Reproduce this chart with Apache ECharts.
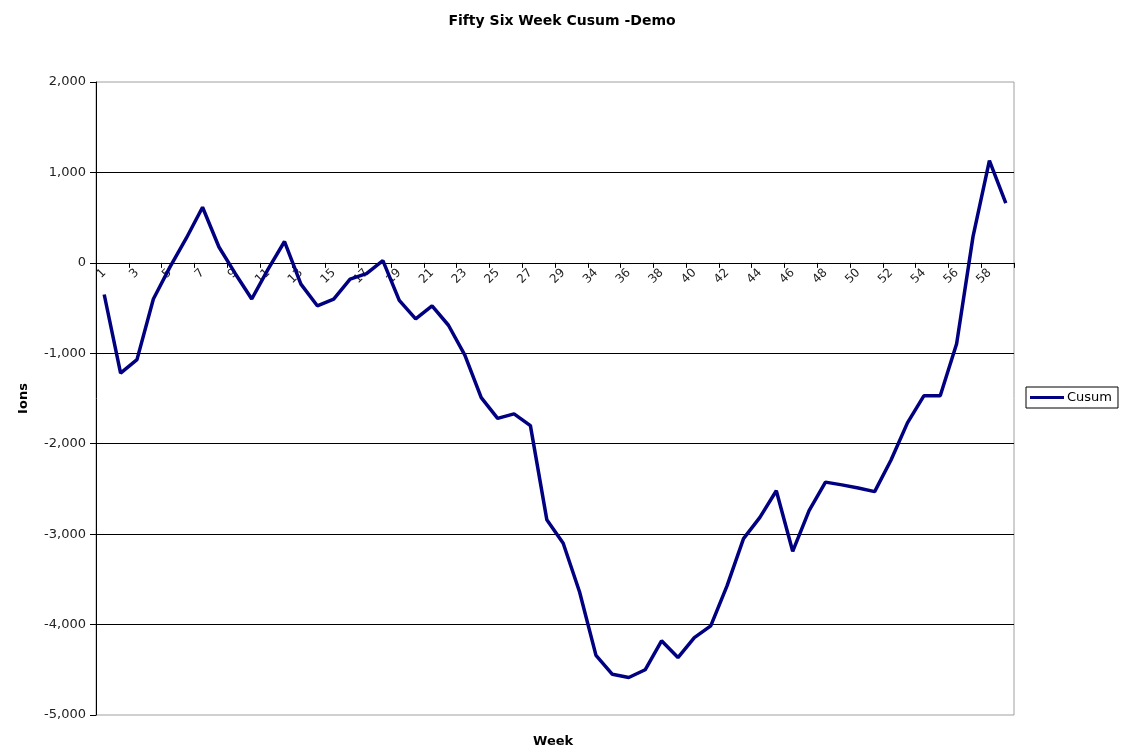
<!DOCTYPE html>
<html>
<head>
<meta charset="utf-8">
<title>Fifty Six Week Cusum -Demo</title>
<script src="https://cdn.jsdelivr.net/npm/echarts@6/dist/echarts.min.js"></script>
<style>
  html, body { margin: 0; padding: 0; background: #fff; }
  #chart { width: 1124px; height: 750px; }
</style>
</head>
<body>
<div id="chart"></div>
<script>
// week numbers (weeks 31-33 are missing in the source sheet)
var weeks = ['1','2','3','4','5','6','7','8','9','10','11','12','13','14','15','16','17','18','19','20',
  '21','22','23','24','25','26','27','28','29','30','34','35','36','37','38','39','40','41','42','43',
  '44','45','46','47','48','49','50','51','52','53','54','55','56','57','58','59'];

var cusum = [-350, -1220, -1070, -400, -50, 270, 615, 175, -120, -400,
  -70, 236, -235, -475, -400, -180, -120, 25, -415, -620,
  -475, -690, -1020, -1490, -1720, -1670, -1800, -2840, -3100, -3640,
  -4340, -4550, -4585, -4500, -4180, -4365, -4145, -4015, -3570, -3050,
  -2815, -2520, -3190, -2740, -2425, -2455, -2490, -2530, -2180, -1770,
  -1470, -1470, -895, 290, 1130, 660];

var font = 'DejaVu Sans, Arial, sans-serif';

// plot box: top 82, bottom 715, y from -5000 to 2000 -> zero line
var plotTop = 82, plotBottom = 715;
var zeroY = plotTop + (2000 / 7000) * (plotBottom - plotTop);

var chart = echarts.init(document.getElementById('chart'));

var option = {
  animation: false,
  backgroundColor: '#fff',
  title: {
    text: 'Fifty Six Week Cusum -Demo',
    left: 'center',
    top: 9,
    textStyle: { fontFamily: font, fontSize: 14, fontWeight: 'bold', color: '#000' }
  },
  legend: {
    orient: 'vertical',
    left: 1026,
    top: 387,
    borderColor: '#000',
    borderWidth: 1,
    borderRadius: 0,
    padding: [4, 6, 4, 4],
    itemWidth: 34,
    itemHeight: 3,
    icon: 'rect',
    itemGap: 0,
    textStyle: { fontFamily: font, fontSize: 13, color: '#000', padding: [0, 0, 0, -2] },
    data: ['Cusum']
  },
  grid: {
    left: 96,
    right: 110,
    top: plotTop,
    bottom: 750 - plotBottom,
    show: true,
    borderColor: '#a0a0a0',
    borderWidth: 1,
    backgroundColor: 'transparent'
  },
  graphic: [{
    type: 'text',
    left: 533,
    top: 735,
    style: { text: 'Week', fontFamily: font, fontSize: 13, fontWeight: 'bold', fill: '#000' }
  }],
  xAxis: {
    type: 'category',
    data: weeks,
    boundaryGap: true,
    position: 'bottom',
    offset: -(plotBottom - zeroY),
    axisLine: { onZero: false, lineStyle: { color: '#000', width: 1 } },
    axisTick: { show: true, length: 5, lineStyle: { color: '#000' } },
    axisLabel: {
      interval: 1,
      rotate: 45,
      margin: 8,
      fontFamily: font,
      fontSize: 12,
      color: '#222'
    },
    splitLine: { show: false }
  },
  yAxis: {
    type: 'value',
    min: -5000,
    max: 2000,
    interval: 1000,
    name: 'Ions',
    nameLocation: 'middle',
    nameRotate: 90,
    nameGap: 66,
    nameTextStyle: { fontFamily: font, fontSize: 13, fontWeight: 'bold', color: '#000' },
    axisLine: { show: true, lineStyle: { color: '#000', width: 1 } },
    axisTick: { show: true, length: 6, lineStyle: { color: '#000' } },
    axisLabel: {
      margin: 10,
      fontFamily: font,
      fontSize: 13,
      color: '#222',
      formatter: function (v) {
        return v.toLocaleString('en-US');
      }
    },
    splitLine: {
      show: true,
      showMinLine: false,
      showMaxLine: false,
      lineStyle: { color: '#000', width: 1 }
    }
  },
  series: [{
    name: 'Cusum',
    type: 'line',
    data: cusum,
    symbol: 'none',
    smooth: false,
    color: '#000080',
    lineStyle: { color: '#000080', width: 3.5 }
  }]
};

chart.setOption(option);
</script>
</body>
</html>
